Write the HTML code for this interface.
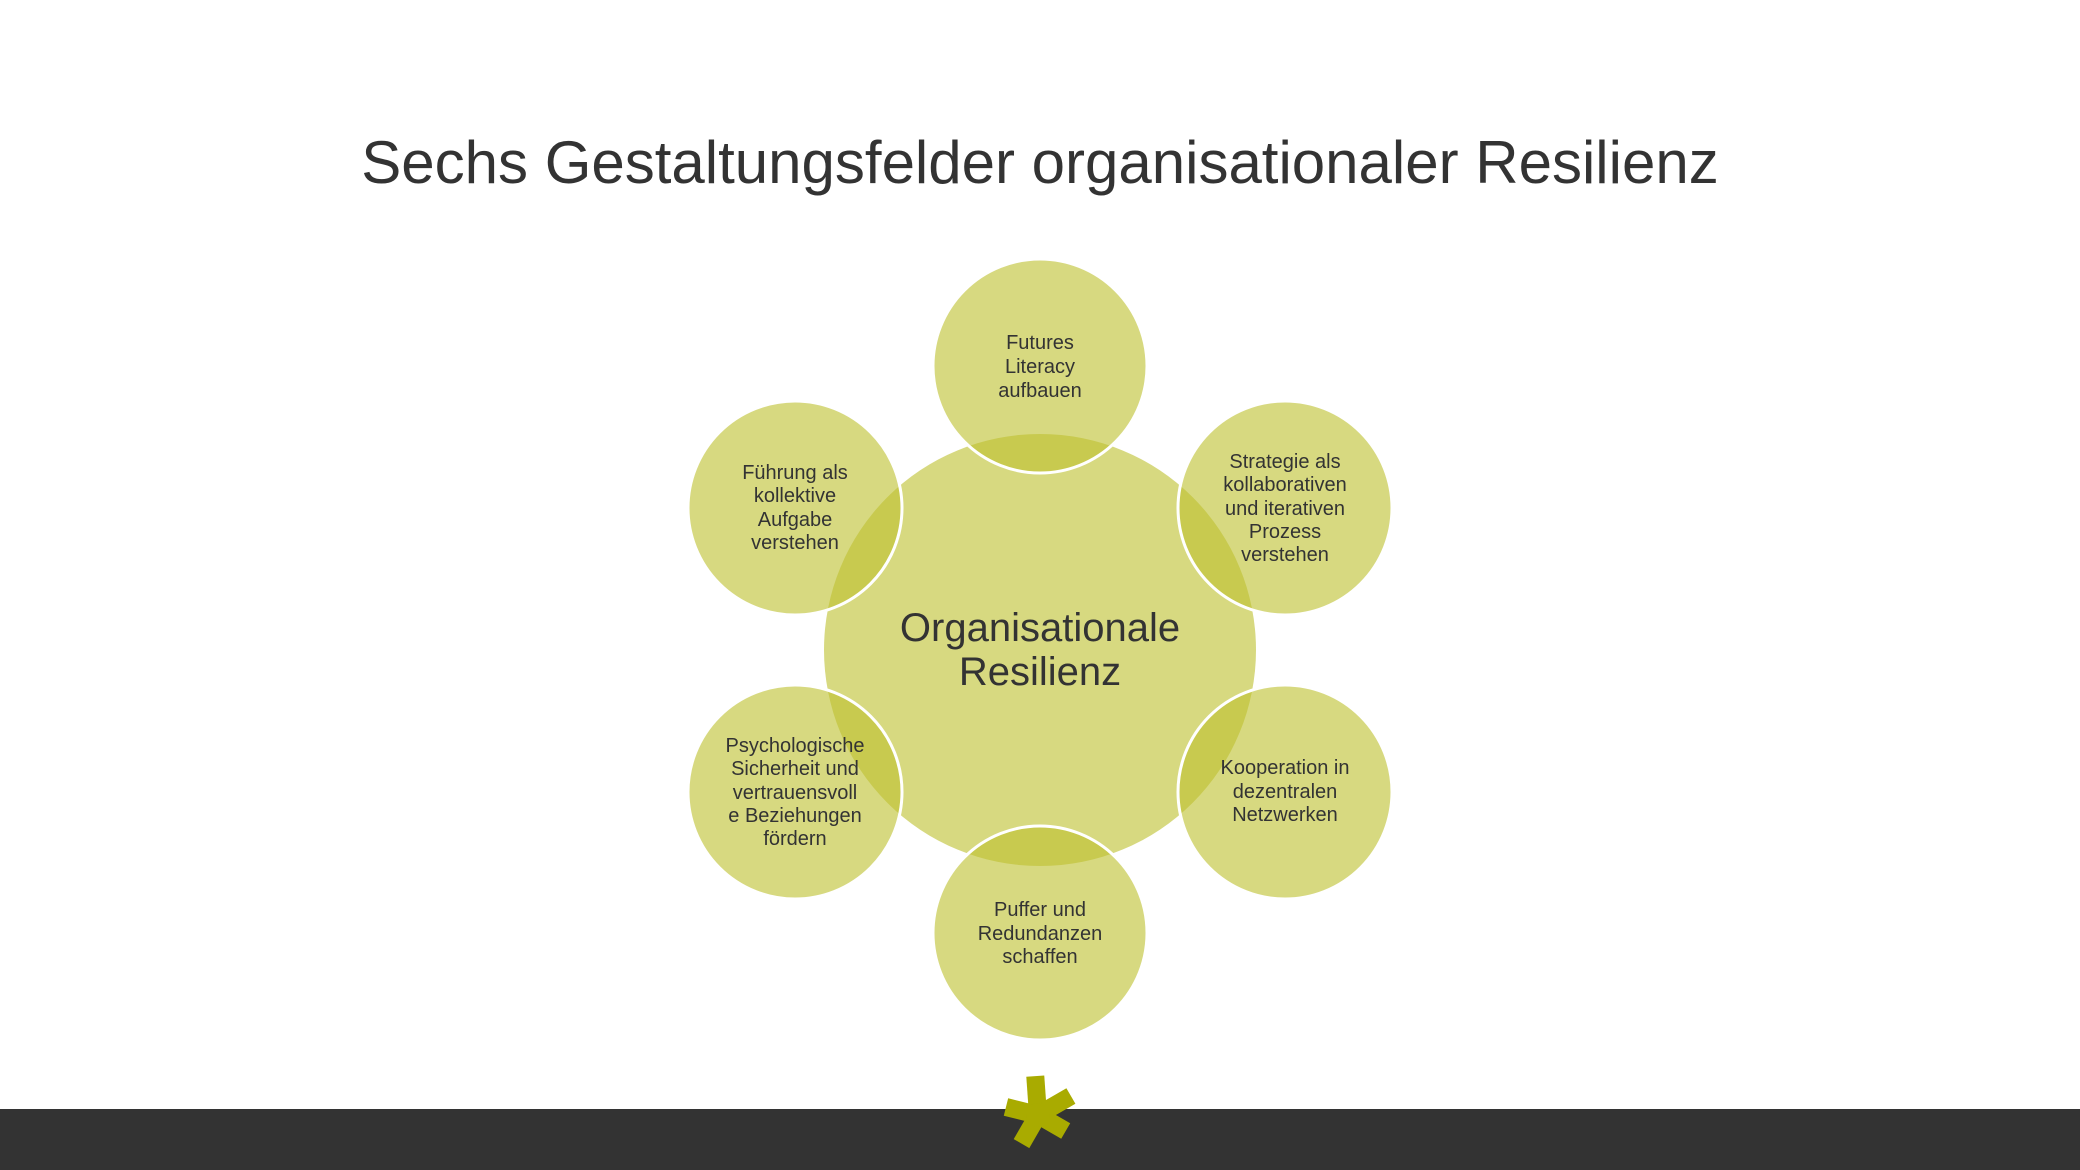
<!DOCTYPE html>
<html><head><meta charset="utf-8"><style>
body{margin:0;width:2080px;height:1170px;background:#fff;overflow:hidden;position:relative;font-family:"Liberation Sans",sans-serif;color:#333}
h1{position:absolute;top:128px;left:0;width:2080px;text-align:center;margin:0;font-weight:normal;font-size:60px;color:#333}
.foot{position:absolute;left:0;top:1109px;width:2080px;height:61px;background:#333}
svg{position:absolute;left:0;top:0}
</style></head><body>
<h1>Sechs Gestaltungsfelder organisationaler Resilienz</h1>
<div class="foot"></div>
<svg width="2080" height="1170" font-family="Liberation Sans, sans-serif" fill="#333">
<circle cx="1040" cy="650" r="216" fill="#d7d980"/>
<g fill="rgba(190,193,49,0.615)" stroke="#fff" stroke-width="3">
<circle cx="1040" cy="366" r="107"/>
<circle cx="1285" cy="508" r="107"/>
<circle cx="1285" cy="792" r="107"/>
<circle cx="1040" cy="933" r="107"/>
<circle cx="795" cy="792" r="107"/>
<circle cx="795" cy="508" r="107"/>
</g>
<g font-size="40" text-anchor="middle" fill="#333">
<text x="1040" y="641">Organisationale</text>
<text x="1040" y="685">Resilienz</text>
</g>
<g font-size="20" text-anchor="middle" fill="#333">
<text x="1040" y="349">Futures</text><text x="1040" y="373">Literacy</text><text x="1040" y="397">aufbauen</text>
<text x="1285" y="468">Strategie als</text><text x="1285" y="491">kollaborativen</text><text x="1285" y="515">und iterativen</text><text x="1285" y="538">Prozess</text><text x="1285" y="561">verstehen</text>
<text x="1285" y="774">Kooperation in</text><text x="1285" y="798">dezentralen</text><text x="1285" y="821">Netzwerken</text>
<text x="1040" y="916">Puffer und</text><text x="1040" y="940">Redundanzen</text><text x="1040" y="963">schaffen</text>
<text x="795" y="752">Psychologische</text><text x="795" y="775">Sicherheit und</text><text x="795" y="799">vertrauensvoll</text><text x="795" y="822">e Beziehungen</text><text x="795" y="845">fördern</text>
<text x="795" y="479">Führung als</text><text x="795" y="502">kollektive</text><text x="795" y="526">Aufgabe</text><text x="795" y="549">verstehen</text>
</g>
<g fill="#a9ab00" transform="translate(1038,1115)">
<rect x="0" y="-9" width="39" height="18" transform="rotate(-94)"/>
<rect x="0" y="-9" width="33" height="18" transform="rotate(-166)"/>
<rect x="0" y="-9" width="38" height="18" transform="rotate(-30)"/>
<rect x="0" y="-9" width="32" height="18" transform="rotate(30)"/>
<rect x="0" y="-9" width="33" height="18" transform="rotate(120)"/>
<circle r="12"/>
</g>
</svg>
</body></html>
